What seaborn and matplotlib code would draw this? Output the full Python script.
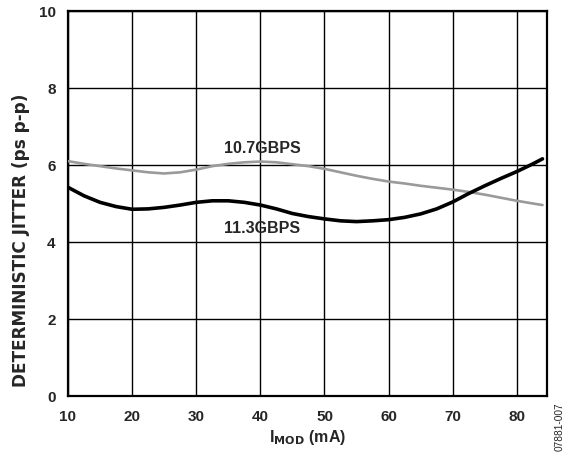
import matplotlib
matplotlib.use("Agg")
import matplotlib.pyplot as plt
import seaborn as sns
import pandas as pd

# Modulation current (mA) sample points
imod = [10, 12.5, 15, 17.5, 20, 22.5, 25, 27.5, 30, 32.5, 35, 37.5, 40, 42.5, 45, 47.5,
        50, 52.5, 55, 57.5, 60, 62.5, 65, 67.5, 70, 72.5, 75, 77.5, 80, 82.5, 84]
# Deterministic jitter (ps p-p) at each data rate
jitter_10g7 = [6.10, 6.03, 5.97, 5.91, 5.86, 5.81, 5.78, 5.81, 5.88, 5.97, 6.03, 6.07, 6.09, 6.07, 6.02, 5.97,
               5.90, 5.81, 5.72, 5.64, 5.57, 5.52, 5.46, 5.41, 5.36, 5.30, 5.23, 5.15, 5.07, 5.00, 4.96]
jitter_11g3 = [5.42, 5.20, 5.03, 4.92, 4.85, 4.86, 4.90, 4.96, 5.03, 5.07, 5.07, 5.03, 4.96, 4.86, 4.74, 4.66,
               4.60, 4.55, 4.53, 4.55, 4.58, 4.64, 4.73, 4.86, 5.04, 5.26, 5.46, 5.65, 5.83, 6.03, 6.16]

x_ticks = [10, 20, 30, 40, 50, 60, 70, 80]
y_ticks = [0, 2, 4, 6, 8, 10]

sns.set_theme(style="white")
plt.rcParams["font.family"] = ["Liberation Sans", "DejaVu Sans"]
plt.rcParams["font.weight"] = "bold"

df = pd.DataFrame({
    "imod": imod * 2,
    "jitter": jitter_10g7 + jitter_11g3,
    "rate": ["10.7GBPS"] * len(imod) + ["11.3GBPS"] * len(imod),
})

fig = plt.figure(figsize=(5.77, 4.60), dpi=100)
ax = fig.add_axes([68 / 577, 63 / 460, (547 - 68) / 577, (397 - 12) / 460])

sns.lineplot(data=df[df.rate == "10.7GBPS"], x="imod", y="jitter", ax=ax,
             color="#9a9a9a", linewidth=1.9, zorder=3,
             solid_joinstyle="round", solid_capstyle="round")
sns.lineplot(data=df[df.rate == "11.3GBPS"], x="imod", y="jitter", ax=ax,
             color="black", linewidth=2.6, zorder=4,
             solid_joinstyle="round", solid_capstyle="round")

ax.set_xlim(10, 84.7)
ax.set_ylim(0, 10)
ax.set_xticks(x_ticks)
ax.set_yticks(y_ticks)
ax.grid(True, color="black", linewidth=1.0)
ax.set_axisbelow(True)
for s in ax.spines.values():
    s.set_color("black")
    s.set_linewidth(1.6)
ax.tick_params(axis="x", length=0, labelsize=11, pad=9.5)
ax.tick_params(axis="y", length=0, labelsize=11, pad=9)
for lab in ax.get_xticklabels() + ax.get_yticklabels():
    lab.set_fontweight("bold")

ax.set_xlabel(r"I$_{\mathbf{MOD}}$ (mA)", fontsize=11.5, fontweight="bold")
ax.set_ylabel("DETERMINISTIC JITTER (ps p-p)", fontsize=12.2, fontweight="bold",
              family=["DejaVu Sans"])
ax.xaxis.label.set_va("center")
ax.yaxis.label.set_va("center")
ax.xaxis.set_label_coords(0.5, (397 - 438) / 385)
ax.yaxis.set_label_coords((21 - 68) / 479, (397 - 240) / 385)

ax.text(40.3, 6.45, "10.7GBPS", ha="center", va="center", fontsize=11.5, fontweight="bold")
ax.text(40.3, 4.38, "11.3GBPS", ha="center", va="center", fontsize=11.5, fontweight="bold")

fig.text(560 / 577, 1 - 427 / 460, "07881-007", rotation=90, ha="center", va="center",
         fontsize=7.3, fontweight="normal")

fig.savefig("out.png", dpi=100)
